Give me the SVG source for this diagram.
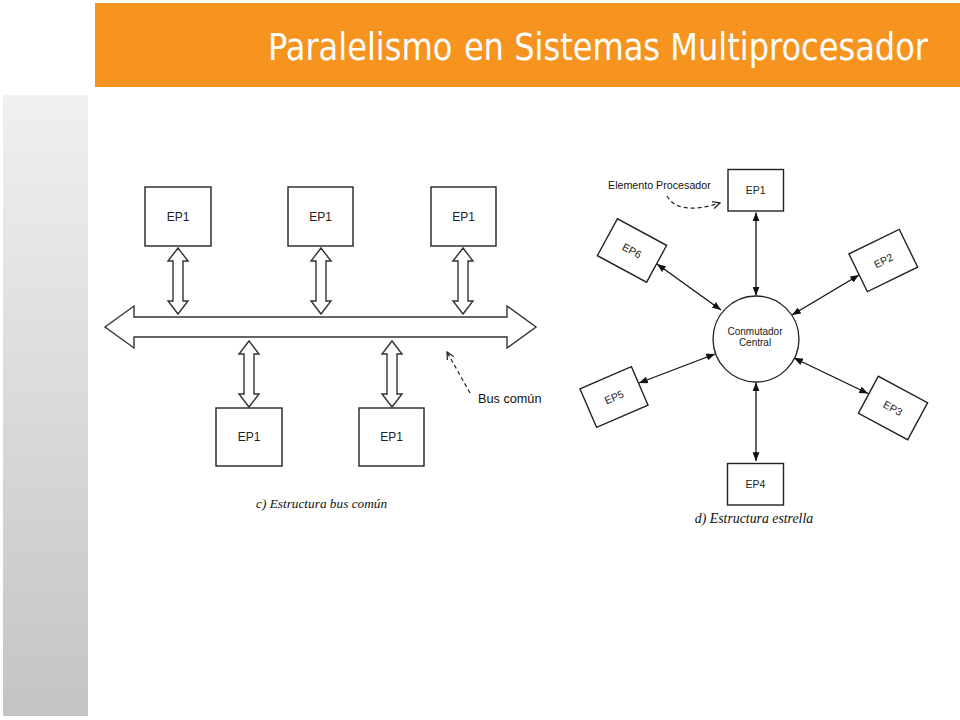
<svg xmlns="http://www.w3.org/2000/svg" width="960" height="720" viewBox="0 0 960 720">
<defs>
<linearGradient id="side" x1="0" y1="0" x2="0" y2="1">
<stop offset="0" stop-color="#f0f0f0"/>
<stop offset="1" stop-color="#c4c4c4"/>
</linearGradient>
<marker id="tri" viewBox="0 0 10 8" refX="10" refY="4" markerWidth="9" markerHeight="7" markerUnits="userSpaceOnUse" orient="auto-start-reverse">
<path d="M0,0 L10,4 L0,8 z" fill="#111"/>
</marker>
<marker id="vee" viewBox="0 0 10 10" refX="9" refY="5" markerWidth="9" markerHeight="9" markerUnits="userSpaceOnUse" orient="auto">
<path d="M1,1 L9,5 L1,9" fill="none" stroke="#222" stroke-width="1.4"/>
</marker>
</defs>
<style>
.box{fill:#fff;stroke:#222;stroke-width:1.4}
.lbl{font-family:"Liberation Sans",Arial,sans-serif;font-size:12px;fill:#222;text-anchor:middle}
.slbl{font-family:"Liberation Sans",Arial,sans-serif;font-size:10.5px;fill:#222;text-anchor:middle}
.ctr{font-family:"Liberation Sans",Arial,sans-serif;font-size:10px;fill:#222;text-anchor:middle}
.hol{fill:#fff;stroke:#333;stroke-width:1.4;stroke-linejoin:miter}
.link{stroke:#111;stroke-width:1.3;fill:none;marker-start:url(#tri);marker-end:url(#tri)}
.dash{stroke:#222;stroke-width:1.2;fill:none;stroke-dasharray:4 3;marker-end:url(#vee)}
.cap{font-family:"Liberation Serif","Times New Roman",serif;font-style:italic;font-size:13.3px;fill:#111}
.note{font-family:"Liberation Sans",Arial,sans-serif;font-size:12.7px;fill:#111}
.note2{font-family:"Liberation Sans",Arial,sans-serif;font-size:10.7px;fill:#111}
</style>
<rect width="960" height="720" fill="#fff"/>
<rect x="95" y="3" width="865" height="84" fill="#f7941f"/>
<text x="268" y="60" font-family="'DejaVu Sans Condensed','Open Sans',sans-serif" font-size="37" fill="#fff" textLength="660" lengthAdjust="spacingAndGlyphs">Paralelismo<tspan dx="12">en Sistemas Multiprocesador</tspan></text>
<rect x="3" y="95" width="85" height="621" fill="url(#side)"/>

<g id="connectors">
<polygon id="bus" class="hol" points="105,327 134,306 134,317 507,317 507,306 536,327 507,348 507,337 134,337 134,348"/>
<polygon class="hol" points="178,248 188,261 183,261 183,301 188,301 178,314 168,301 173,301 173,261 168,261"/>
<polygon class="hol" points="321,248 331,261 326,261 326,301 331,301 321,314 311,301 316,301 316,261 311,261"/>
<polygon class="hol" points="463,248 473,261 468,261 468,301 473,301 463,314 453,301 458,301 458,261 453,261"/>
<polygon class="hol" points="249,341 259,354 254,354 254,394 259,394 249,407 239,394 244,394 244,354 239,354"/>
<polygon class="hol" points="392,341 402,354 397,354 397,394 402,394 392,407 382,394 387,394 387,354 382,354"/>
<path class="dash" d="M470,393 L447,352"/>
<path class="dash" d="M667,196 Q678,216 720,203"/>
<line class="link" x1="756" y1="212.5" x2="756" y2="295.5"/>
<line class="link" x1="756" y1="382.5" x2="756" y2="461"/>
<line class="link" x1="657" y1="264" x2="721" y2="310"/>
<line class="link" x1="859" y1="275" x2="792" y2="315"/>
<line class="link" x1="639" y1="383" x2="715" y2="354"/>
<line class="link" x1="868" y1="393.5" x2="794" y2="358"/>
</g>

<g id="bus-ep-a"><rect class="box" x="145" y="187" width="66" height="59"/><text class="lbl" x="178" y="221">EP1</text></g>
<g id="bus-ep-b"><rect class="box" x="288" y="187" width="65" height="59"/><text class="lbl" x="320.5" y="221">EP1</text></g>
<g id="bus-ep-c"><rect class="box" x="431" y="187" width="65" height="59"/><text class="lbl" x="463.5" y="221">EP1</text></g>
<g id="bus-ep-d"><rect class="box" x="216" y="408" width="66" height="58"/><text class="lbl" x="249" y="441">EP1</text></g>
<g id="bus-ep-e"><rect class="box" x="359" y="408" width="65" height="58"/><text class="lbl" x="391.5" y="441">EP1</text></g>
<text class="note" x="478" y="403">Bus común</text>
<text class="cap" x="256" y="508">c) Estructura bus común</text>

<g id="switch"><circle cx="756" cy="339" r="43" fill="#fff" stroke="#222" stroke-width="1.3"/>
<text class="ctr" x="755" y="335">Conmutador</text>
<text class="ctr" x="755" y="346">Central</text></g>
<g id="ep1"><rect class="box" x="728" y="169.5" width="55.5" height="41.5"/><text class="slbl" x="755.7" y="194">EP1</text></g>
<g id="ep2" transform="translate(883.3,260.5) rotate(-26)"><rect class="box" x="-28" y="-21" width="56" height="42"/><text class="slbl" x="0" y="4">EP2</text></g>
<g id="ep3" transform="translate(893,408) rotate(28.3)"><rect class="box" x="-28" y="-21" width="56" height="42"/><text class="slbl" x="0" y="4">EP3</text></g>
<g id="ep4"><rect class="box" x="727.5" y="463.5" width="56" height="41.5"/><text class="slbl" x="755.5" y="488">EP4</text></g>
<g id="ep5" transform="translate(614,397) rotate(-23.3)"><rect class="box" x="-28" y="-21" width="56" height="42"/><text class="slbl" x="0" y="4">EP5</text></g>
<g id="ep6" transform="translate(632,250.5) rotate(28.5)"><rect class="box" x="-28" y="-21" width="56" height="42"/><text class="slbl" x="0" y="4">EP6</text></g>
<text class="note2" x="608" y="189">Elemento Procesador</text>
<text class="cap" x="754" y="523" style="font-size:13.8px;text-anchor:middle">d) Estructura estrella</text>
</svg>
